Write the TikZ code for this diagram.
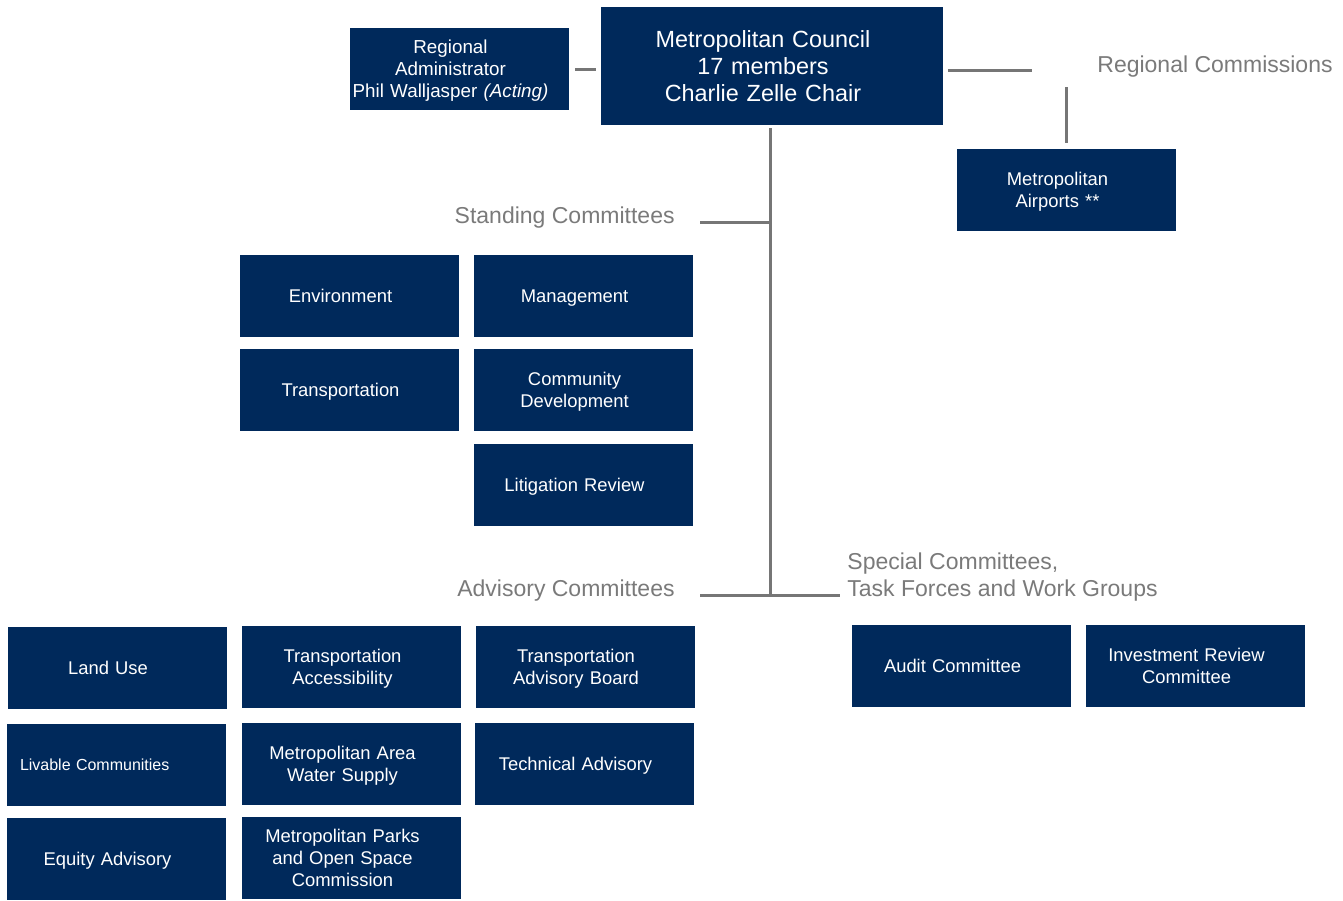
\documentclass[tikz,border=0pt]{standalone}
\usepackage{fontspec}
\setmainfont{Liberation Sans}
\usetikzlibrary{positioning}

\definecolor{metnavy}{HTML}{00295B}
\definecolor{linegray}{HTML}{767676}
\definecolor{labelgray}{HTML}{7A7A7A}

% struts: tall one for the first line, deep one for the last
\newcommand\topstrut{\rule{0pt}{0.966em}}
\newcommand\botstrut{\rule[-0.25em]{0pt}{0.25em}}

\tikzset{
  unit/.style={fill=metnavy, text=white, minimum width=109.5pt, minimum height=41pt,
    inner sep=0pt, text width=109.5pt, align=center, font=\fontsize{9.2}{11}\selectfont,
    execute at begin node={\leftskip=0pt plus 1fil\rightskip=9pt plus 1fil\parfillskip=0pt\topstrut},
    execute at end node={\botstrut}},
  head/.style={unit, minimum width=171pt, text width=171pt, minimum height=59pt,
    font=\fontsize{11.7}{13.5}\selectfont},
  group/.style={text=labelgray, inner sep=0pt, align=left,
    font=\fontsize{11.5}{13.5}\selectfont},
  link/.style={draw=linegray, line width=1.5pt},
}

\begin{document}
\begin{tikzpicture}[x=0.5pt,y=-0.5pt]
\useasboundingbox (0,0) rectangle (1343,900);
% top row
\node (council) at (772,66) [head] {Metropolitan Council\\17 members\\Charlie Zelle Chair};
\node (admin) at (459.5,69) [unit, font=\fontsize{9.4}{11}\selectfont] {Regional\\Administrator\\Phil Walljasper \textit{(Acting)}};
\node (airports) at (1066.5,190) [unit] {Metropolitan\\Airports **};
\node (regcomm) at (1097,72) [group, anchor=base west] {Regional Commissions};
% standing committees
\node (standing) at (675,223) [group, anchor=base east] {Standing Committees};
\node (env) at (349.5,296) [unit] {Environment};
\node (mgmt) at (583.5,296) [unit] {Management};
\node (transp) at (349.5,390) [unit] {Transportation};
\node (comdev) at (583.5,390) [unit] {Community\\Development};
\node (litig) at (583.5,485) [unit] {Litigation Review};
% advisory committees
\node (advisory) at (675,596) [group, anchor=base east] {Advisory Committees};
\node (landuse) at (117,668) [unit] {Land Use};
\node (livable) at (116.5,765) [unit, text width=96.5pt, font=\fontsize{8}{10}\selectfont,
  execute at begin node={\leftskip=0pt\rightskip=0pt plus 1fil}] {Livable Communities};
\node (equity) at (116.5,859) [unit] {Equity Advisory};
\node (transacc) at (351.5,667) [unit] {Transportation\\Accessibility};
\node (water) at (351.5,764) [unit] {Metropolitan Area\\Water Supply};
\node (parks) at (351.5,858) [unit] {Metropolitan Parks\\and Open Space\\Commission};
\node (tab) at (585,667) [unit] {Transportation\\Advisory Board};
\node (techadv) at (584.5,764) [unit] {Technical Advisory};
% special committees
\node (special) at (847,577) [group, anchor=west] {Special Committees,\\Task Forces and Work Groups};
\node (audit) at (961.5,666) [unit] {Audit Committee};
\node (invest) at (1195.5,666) [unit] {Investment Review\\Committee};
% junctions
\coordinate (standjoin) at (770,222);
\coordinate (advjoin) at (770,595);
\coordinate (standend) at (700,222);
\coordinate (advend) at (700,595);
\coordinate (specend) at (840,595);
\coordinate (regend) at (1032,70);
\coordinate (regdrop) at (1066,87);
\draw[link, shorten <=3pt, shorten >=2.5pt] (admin.east) -- (admin.east -| council.west);
\draw[link, shorten <=2.5pt] (council.east |- regend) -- (regend);
\draw[link, shorten >=3pt] (regdrop) -- (airports.north -| regdrop);
\draw[link] ([yshift=-1.5pt]council.south -| advjoin) -- (advjoin);
\draw[link] (standend) -- (standjoin);
\draw[link] (advend) -- (specend);
\end{tikzpicture}
\end{document}
